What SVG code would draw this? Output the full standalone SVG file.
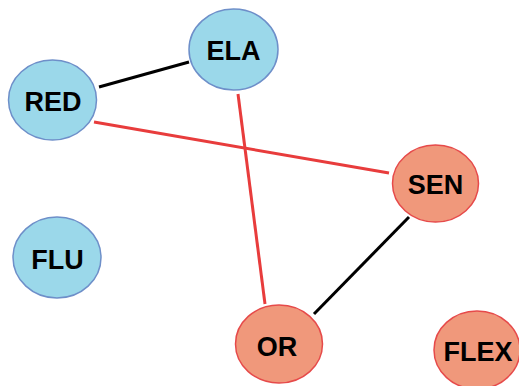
<svg xmlns="http://www.w3.org/2000/svg" width="519" height="386" viewBox="0 0 519 386">
<style>
.blue{fill:#9bd8ea;stroke:#6e8fc9;stroke-width:1.5}
.orange{fill:#f0987b;stroke:#e64a4a;stroke-width:1.5}
.lbl{font-family:"Liberation Sans",Arial,sans-serif;font-weight:bold;font-size:27px;fill:#000;text-anchor:middle}
.blk{stroke:#000;stroke-width:3;fill:none}
.red{stroke:#e83c3c;stroke-width:3;fill:none}
</style>
<rect width="519" height="386" fill="#fff"/>
<g id="connectors">
<line class="blk" x1="99" y1="87" x2="189" y2="62"/>
<line class="red" x1="94" y1="122" x2="389" y2="173"/>
<line class="red" x1="238" y1="94" x2="265" y2="304"/>
<line class="blk" x1="409" y1="217" x2="314" y2="314"/>
</g>
<g id="ELA"><ellipse class="blue" cx="233.5" cy="49.5" rx="44.5" ry="40.5"/><text class="lbl" x="233.5" y="60">ELA</text></g>
<g id="RED"><ellipse class="blue" cx="52.5" cy="100" rx="44" ry="40"/><text class="lbl" x="53" y="110.5">RED</text></g>
<g id="FLU"><ellipse class="blue" cx="57" cy="257.5" rx="44" ry="40.5"/><text class="lbl" x="57.5" y="268.5">FLU</text></g>
<g id="SEN"><ellipse class="orange" cx="435.5" cy="183.5" rx="43" ry="38.5"/><text class="lbl" x="435.5" y="194">SEN</text></g>
<g id="OR"><ellipse class="orange" cx="279" cy="344" rx="43.5" ry="39"/><text class="lbl" x="277" y="355.5">OR</text></g>
<g id="FLEX"><ellipse class="orange" cx="477" cy="350" rx="43" ry="39"/><text class="lbl" x="478" y="360.5">FLEX</text></g>
</svg>
